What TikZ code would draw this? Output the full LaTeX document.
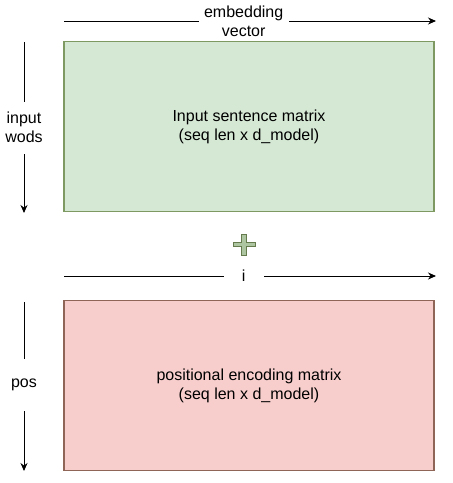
\documentclass[tikz,border=0pt]{standalone}
\usepackage{fontspec}
\setmainfont{Liberation Sans}
\usepackage{xcolor}
\usetikzlibrary{arrows.meta, positioning}

\definecolor{inputfill}{HTML}{D5E8D4}
\definecolor{inputline}{HTML}{7E9A62}
\definecolor{posfill}{HTML}{F8CECC}
\definecolor{posline}{HTML}{8E6556}

\begin{document}
\begin{tikzpicture}[x=1pt, y=-1pt, font=\fontsize{16}{19}\selectfont]
\tikzstyle{matrixbox} = [rectangle, minimum width=370pt, minimum height=170pt, align=center, line width=1.2pt, inner sep=0pt]
\tikzstyle{arrow} = [line width=0.9pt, -{Stealth[length=8pt, width=7pt]}]
\tikzstyle{hlabel} = [fill=white, align=center, inner sep=0pt, minimum width=40pt]
\tikzstyle{vlabel} = [fill=white, align=center, inner sep=0pt, minimum height=52pt]

\fill[white] (0,0) rectangle (453,483);

% matrices
\node (input) [matrixbox, fill=inputfill, draw=inputline] at (249,126.5) {Input sentence matrix\\(seq len x d\_model)};
\node (posenc) [matrixbox, fill=posfill, draw=posline] at (249,385.5) {positional encoding matrix\\(seq len x d\_model)};

% plus sign
\draw[fill=inputfill!55!inputline, draw=inputline!80!black, line width=0.8pt]
  (241,234) -- (246,234) -- (246,242) -- (255,242) -- (255,246) -- (246,246) -- (246,255)
  -- (241,255) -- (241,246) -- (233,246) -- (233,242) -- (241,242) -- cycle;

% axes
\coordinate (emb start) at (64,21);
\coordinate (emb end) at (436,21);
\coordinate (i start) at (64,276);
\coordinate (i end) at (436,276);
\coordinate (words start) at (24,42);
\coordinate (words end) at (24,213);
\coordinate (pos start) at (24,302);
\coordinate (pos end) at (24,471);

\draw [arrow] (emb start) -- node[hlabel, pos=0.483, minimum width=90pt] {embedding\\vector} (emb end);
\draw [arrow] (i start) -- node[hlabel, pos=0.483] {i} (i end);
\draw [arrow] (words start) -- node[vlabel, pos=0.5] {input\\wods} (words end);
\draw [arrow] (pos start) -- node[vlabel, pos=0.49] {pos} (pos end);
\end{tikzpicture}
\end{document}
